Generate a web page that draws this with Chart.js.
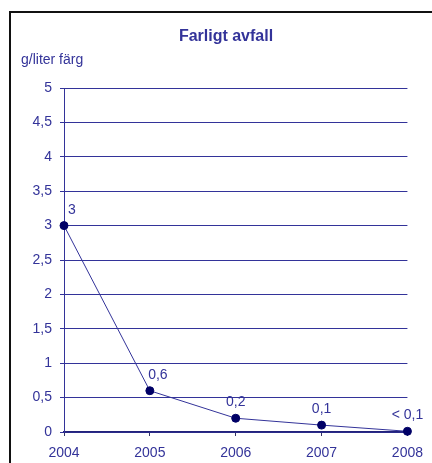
<!DOCTYPE html>
<html>
<head>
<meta charset="utf-8">
<script src="https://cdn.jsdelivr.net/npm/chart.js@4.4.0/dist/chart.umd.min.js"></script>
<style>
  html, body { margin: 0; padding: 0; background: #fff; overflow: hidden; }
  #wrap { position: relative; width: 432px; height: 463px; }
  #frame { position: absolute; left: 9px; top: 11px; width: 600px; height: 600px;
           border-left: 2px solid #111; border-top: 2px solid #111; }
  canvas { position: absolute; left: 0; top: 0; }
</style>
</head>
<body>
<div id="wrap">
  <div id="frame"></div>
  <canvas id="chart" width="432" height="463"></canvas>
</div>
<script>
// data
const years = ['2004', '2005', '2006', '2007', '2008'];
const gramPerLiter = [3, 0.6, 0.2, 0.1, 0.01];
const valueLabels = ['3', '0,6', '0,2', '0,1', '< 0,1'];
const labelShift = [8, 8, 0, 0, 0]; // små förskjutningar i x

const chartTitle = 'Farligt avfall';
const unitLabel = 'g/liter färg';

const textColor = '#333399';
const fontFamily = "'Liberation Sans', Arial, sans-serif";

// rubrik + enhet + värdeetiketter
const textPlugin = {
  id: 'texts',
  afterDatasetsDraw(chart) {
    const ctx = chart.ctx;
    ctx.save();
    ctx.fillStyle = textColor;
    ctx.textBaseline = 'alphabetic';

    ctx.font = 'bold 16px ' + fontFamily;
    ctx.textAlign = 'center';
    ctx.fillText(chartTitle, 226, 41);

    ctx.font = '14px ' + fontFamily;
    ctx.textAlign = 'left';
    ctx.fillText(unitLabel, 21, 64);

    ctx.textAlign = 'center';
    const meta = chart.getDatasetMeta(0);
    meta.data.forEach((pt, i) => {
      ctx.fillText(valueLabels[i], pt.x + labelShift[i], pt.y - 12);
    });
    ctx.restore();
  }
};

const ctx = document.getElementById('chart').getContext('2d');
new Chart(ctx, {
  type: 'line',
  data: {
    labels: years,
    datasets: [{
      data: gramPerLiter,
      borderColor: '#333399',
      borderWidth: 1,
      tension: 0,
      fill: false,
      pointRadius: 4,
      pointHoverRadius: 4,
      pointBackgroundColor: '#000066',
      pointBorderColor: '#000066',
      clip: false
    }]
  },
  options: {
    responsive: false,
    animation: false,
    events: [],
    layout: { padding: { top: 88, right: 24, left: 0, bottom: 0 } },
    plugins: {
      legend: { display: false },
      title: { display: false },
      tooltip: { enabled: false }
    },
    scales: {
      x: {
        offset: false,
        afterFit(scale) { scale.height = 31; },
        grid: {
          drawOnChartArea: false,
          drawTicks: true,
          tickLength: 4,
          color: '#333366'
        },
        border: { color: '#22227a', width: 1.5 },
        ticks: {
          color: textColor,
          font: { family: fontFamily, size: 14 },
          padding: 9,
          maxRotation: 0
        }
      },
      y: {
        min: 0,
        max: 5,
        afterFit(scale) { scale.width = 64; },
        grid: {
          color: '#333399',
          lineWidth: 1,
          drawTicks: true,
          tickLength: 4
        },
        border: { color: '#333399', width: 1 },
        ticks: {
          stepSize: 0.5,
          color: textColor,
          font: { family: fontFamily, size: 14 },
          padding: 8,
          callback: (v) => String(v).replace('.', ',')
        }
      }
    }
  },
  plugins: [textPlugin]
});
</script>
</body>
</html>
